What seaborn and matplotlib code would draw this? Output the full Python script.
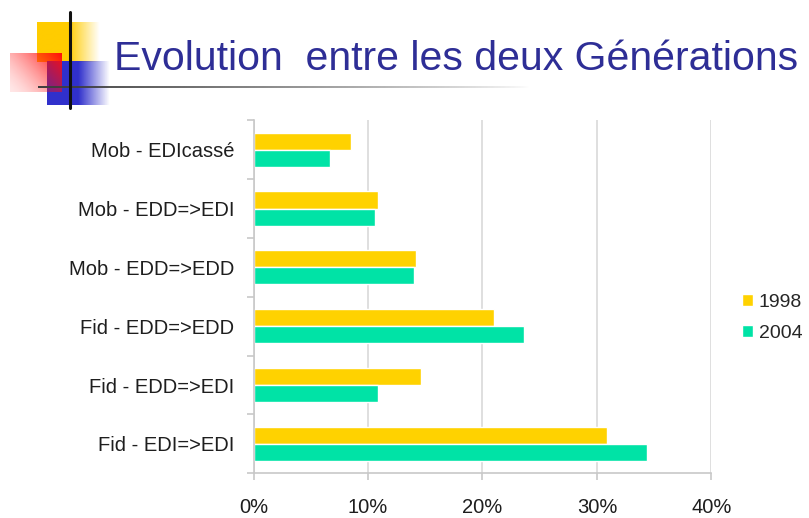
import numpy as np
import pandas as pd
import matplotlib
matplotlib.use("Agg")
import matplotlib.pyplot as plt
import seaborn as sns
from matplotlib.ticker import PercentFormatter, FixedLocator

# Données (parts en %)
categories = ["Mob - EDIcassé", "Mob - EDD=>EDI", "Mob - EDD=>EDD",
              "Fid - EDD=>EDD", "Fid - EDD=>EDI", "Fid - EDI=>EDI"]
generations = ["1998", "2004"]
gen_1998 = [8.5, 10.9, 14.2, 21.0, 14.6, 30.9]
gen_2004 = [6.7, 10.6, 14.0, 23.6, 10.9, 34.4]
x_ticks = [0, 10, 20, 30, 40]

df = pd.DataFrame({
    "Catégorie": categories * 2,
    "Part": np.array(gen_1998 + gen_2004) / 100,
    "Génération": [generations[0]] * len(categories) + [generations[1]] * len(categories),
})

couleurs = {"1998": "#FFD200", "2004": "#00E3A6"}

sns.set_theme(style="white")
plt.rcParams["font.family"] = ["Liberation Sans", "DejaVu Sans"]

W, H = 809, 518
fig = plt.figure(figsize=(W / 100, H / 100), dpi=100)
fig.patch.set_facecolor("white")


def fig_box(x0, y0, x1, y1):
    # pixels (origine en haut à gauche) -> coordonnées figure
    return [x0 / W, 1 - y1 / H, (x1 - x0) / W, (y1 - y0) / H]


# ─── Décor de la diapo (carrés en dégradé + traits)
def carre_degrade(box, rgb, mode, z):
    a = fig.add_axes(fig_box(*box), zorder=z)
    n = 96
    t = np.linspace(0, 1, n)
    if mode == "droite":
        # plein à gauche, s'efface vers la droite
        alpha = np.clip((1 - t) / 0.5, 0, 1)[None, :].repeat(n, 0)
    else:
        # rouge : plein en haut à droite, pâle en bas à gauche
        gx = t[None, :]
        gy = (1 - t)[:, None]
        alpha = np.clip(0.1 + 0.9 * (gx * 0.6 + gy * 0.4) ** 1.5, 0, 1)
    img = np.zeros((n, n, 4))
    img[..., :3] = rgb
    img[..., 3] = alpha
    a.imshow(img, aspect="auto", interpolation="bilinear")
    a.axis("off")


carre_degrade((37, 22, 100, 62), (1.0, 0.80, 0.0), "droite", 1)
carre_degrade((47, 61, 110, 105), (0.19, 0.19, 0.80), "droite", 2)
carre_degrade((10, 53, 62, 92), (1.0, 0.05, 0.05), "diag", 3)

ligne = fig.add_axes(fig_box(38, 86, 530, 88.5), zorder=4)
g = np.linspace(0, 1, 300)
strip = np.zeros((1, 300, 4))
strip[..., :3] = 0.25
strip[..., 3] = np.clip(1 - g, 0, 1) ** 0.8
ligne.imshow(strip, aspect="auto", interpolation="bilinear")
ligne.axis("off")
fig.add_artist(plt.Line2D([70 / W, 70 / W], [1 - 12 / H, 1 - 108 / H],
                          color="#111111", lw=2.2, zorder=5))

fig.text(114 / W, 1 - 70 / H, "Evolution  entre les deux Générations",
         fontsize=29.5, color="#2E2E96", ha="left", va="baseline", zorder=6)

# ─── Graphique
ax = fig.add_axes(fig_box(253.7, 120.3, 711.3, 473.3))
sns.barplot(data=df, y="Catégorie", x="Part", hue="Génération", hue_order=generations,
            palette=couleurs, orient="h", width=0.58, saturation=1, ax=ax)

ax.set_xlim(0, 0.40)
ax.set_ylim(len(categories) - 0.5, -0.5)
ax.xaxis.set_major_locator(FixedLocator([v / 100 for v in x_ticks]))
ax.xaxis.set_major_formatter(PercentFormatter(1.0, decimals=0))
ax.grid(axis="x", color="#D9D9D9", lw=1.2)
ax.set_axisbelow(True)
ax.set_xlabel("")
ax.set_ylabel("")
for s in ["top", "right"]:
    ax.spines[s].set_visible(False)
for s in ["left", "bottom"]:
    ax.spines[s].set_color("#C8C8C8")
    ax.spines[s].set_linewidth(1.2)

ax.tick_params(axis="y", length=0, pad=14, labelsize=14.5, labelcolor="#1E1E1E")
ax.yaxis.set_minor_locator(FixedLocator(np.arange(-0.5, len(categories), 1.0)))
ax.tick_params(axis="y", which="minor", left=True, length=5, color="#C8C8C8", width=1.2)
ax.tick_params(axis="x", bottom=True, length=5, color="#C8C8C8", width=1.2, pad=13,
               labelsize=14.5, labelcolor="#1E1E1E")

# légende serrée contre le bord droit, sans être coupée
handles, labels = ax.get_legend_handles_labels()
ax.legend(handles, labels, loc="center left", bbox_to_anchor=(742 / W, 1 - 318 / H),
          bbox_transform=fig.transFigure, frameon=False, fontsize=14,
          handlelength=0.55, handleheight=0.55, handletextpad=0.3, labelspacing=0.7,
          borderpad=0, borderaxespad=0)

fig.savefig("out.png", dpi=100)
